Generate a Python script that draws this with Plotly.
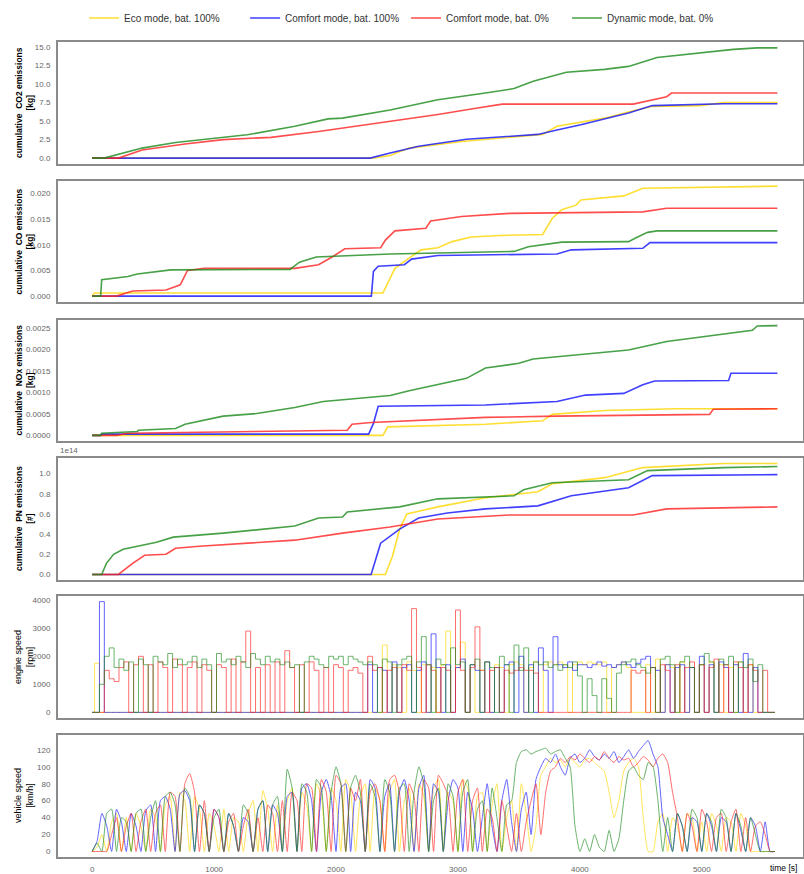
import plotly.graph_objects as go
from plotly.subplots import make_subplots

SERIES = ["Eco mode, bat. 100%", "Comfort mode, bat. 100%", "Comfort mode, bat. 0%", "Dynamic mode, bat. 0%"]
COLORS = ["#FFD700", "#1010FF", "#FF2020", "#1A8A1A"]

# ---------------- cumulative CO2 emissions [kg] ----------------
co2_eco_t = [0, 2300, 2444, 2600, 3030, 3460, 3695, 3812, 4203, 4438, 4594, 4985, 5180, 5620]
co2_eco_v = [0, 0, 0.35, 1.35, 2.25, 2.8, 3.2, 4.3, 5.4, 6.4, 7.0, 7.1, 7.5, 7.5]
co2_c100_t = [0, 2280, 2444, 2678, 3070, 3343, 3656, 3812, 4008, 4399, 4594, 5180, 5620]
co2_c100_v = [0, 0, 0.7, 1.6, 2.55, 2.9, 3.2, 3.8, 4.5, 6.1, 7.1, 7.35, 7.35]
co2_c0_t = [0, 215, 410, 762, 1075, 1466, 1857, 2248, 2444, 2835, 3148, 3363, 4438, 4712, 4751, 5620]
co2_c0_v = [0, 0, 1.1, 1.9, 2.5, 2.8, 3.6, 4.5, 5.0, 5.9, 6.75, 7.3, 7.3, 8.3, 8.8, 8.8]
co2_dyn_t = [0, 98, 410, 684, 1271, 1662, 1935, 2053, 2444, 2835, 3226, 3460, 3617, 3890, 4203, 4399, 4633, 4985, 5259, 5455, 5620]
co2_dyn_v = [0, 0, 1.35, 2.1, 3.15, 4.3, 5.3, 5.4, 6.5, 7.9, 8.8, 9.4, 10.4, 11.6, 12.0, 12.4, 13.6, 14.2, 14.7, 14.9, 14.9]

# ---------------- cumulative CO emissions [kg] ----------------
co_eco_t = [0, 20, 2385, 2444, 2483, 2600, 2698, 2835, 2952, 3108, 3343, 3695, 3773, 3851, 3969, 4008, 4360, 4516, 5180, 5620]
co_eco_v = [0, 0.0006, 0.0006, 0.0035, 0.0054, 0.0074, 0.009, 0.0094, 0.0106, 0.0115, 0.0118, 0.012, 0.0151, 0.0168, 0.0177, 0.0187, 0.0195, 0.021, 0.0213, 0.0214]
co_c100_t = [0, 2290, 2307, 2346, 2561, 2620, 2835, 3812, 3930, 4516, 4575, 5620]
co_c100_v = [0, 0, 0.0048, 0.0058, 0.0061, 0.0072, 0.0079, 0.0082, 0.009, 0.0093, 0.0104, 0.0104]
co_c0_t = [0, 200, 332, 606, 723, 782, 919, 1662, 1857, 1975, 2072, 2366, 2405, 2483, 2737, 2776, 3030, 3421, 4516, 4712, 5620]
co_c0_v = [0, 0, 0.001, 0.0012, 0.0022, 0.005, 0.0054, 0.0054, 0.0061, 0.0077, 0.0092, 0.0094, 0.0109, 0.0127, 0.0132, 0.0146, 0.0155, 0.0161, 0.0164, 0.0171, 0.0171]
co_dyn_t = [0, 70, 78, 293, 371, 645, 1623, 1700, 1838, 2444, 3460, 3578, 3851, 4399, 4457, 4555, 4633, 5620]
co_dyn_v = [0, 0, 0.0032, 0.0038, 0.0043, 0.0051, 0.0052, 0.0066, 0.0076, 0.0082, 0.0087, 0.0096, 0.0105, 0.0106, 0.0113, 0.0124, 0.0127, 0.0127]

# ---------------- cumulative NOx emissions [kg] ----------------
nox_eco_t = [0, 2385, 2424, 3226, 3695, 3773, 4203, 4790, 5620]
nox_eco_v = [0, 0, 0.0002, 0.00026, 0.00034, 0.00049, 0.00058, 0.00062, 0.00062]
nox_c100_t = [0, 70, 78, 2268, 2307, 2346, 3226, 3812, 4047, 4360, 4516, 4614, 5220, 5239, 5620]
nox_c100_v = [0, 0, 0.00003, 0.00003, 0.00028, 0.00068, 0.00071, 0.00079, 0.00094, 0.00098, 0.00118, 0.00127, 0.00128, 0.00145, 0.00145]
nox_c0_t = [0, 200, 293, 1271, 2092, 2131, 2288, 3226, 3812, 5063, 5094, 5620]
nox_c0_v = [0, 0, 0.00005, 0.00008, 0.00012, 0.00026, 0.0003, 0.00042, 0.00045, 0.00049, 0.00061, 0.00062]
nox_dyn_t = [0, 70, 78, 371, 380, 684, 762, 1075, 1349, 1662, 1896, 2444, 2600, 2913, 3070, 3226, 3499, 3617, 4008, 4399, 4712, 5102, 5415, 5455, 5620]
nox_dyn_v = [0, 0, 0.00005, 0.00009, 0.00012, 0.00016, 0.00026, 0.00045, 0.00051, 0.00065, 0.00079, 0.00093, 0.00104, 0.00123, 0.00133, 0.00157, 0.00168, 0.00178, 0.00188, 0.00199, 0.00219, 0.00234, 0.00245, 0.00255, 0.00256]

# ---------------- cumulative PN emissions [#] (units of 1e14) ----------------
pn_eco_t = [0, 2405, 2463, 2522, 2581, 2835, 3226, 3656, 3773, 4203, 4516, 5180, 5620]
pn_eco_v = [0, 0, 0.18, 0.45, 0.6, 0.67, 0.76, 0.82, 0.9, 0.96, 1.06, 1.1, 1.1]
pn_c100_t = [0, 2288, 2366, 2444, 2522, 2678, 2913, 3226, 3656, 3930, 4399, 4594, 5620]
pn_c100_v = [0, 0, 0.31, 0.38, 0.45, 0.56, 0.61, 0.65, 0.68, 0.78, 0.86, 0.98, 0.99]
pn_c0_t = [0, 215, 332, 430, 606, 684, 880, 1662, 2053, 2444, 2835, 3421, 4438, 4712, 5620]
pn_c0_v = [0, 0, 0.11, 0.19, 0.2, 0.26, 0.28, 0.34, 0.41, 0.47, 0.55, 0.59, 0.59, 0.65, 0.67]
pn_dyn_t = [0, 78, 117, 176, 254, 410, 528, 665, 1075, 1662, 1857, 2053, 2092, 2522, 2835, 3460, 3539, 3773, 4399, 4555, 5180, 5620]
pn_dyn_v = [0, 0, 0.11, 0.2, 0.25, 0.29, 0.32, 0.37, 0.41, 0.48, 0.56, 0.57, 0.62, 0.67, 0.75, 0.78, 0.84, 0.91, 0.94, 1.03, 1.06, 1.07]

# ---------------- engine speed [rpm], sampled every 40 s ----------------
SAMPLE_STEP = 40
eng_eco = [
    0, 1750, 0, 0, 0, 0, 0, 0, 0, 0,
    0, 0, 0, 0, 0, 0, 0, 0, 0, 0,
    0, 0, 0, 0, 0, 0, 0, 0, 0, 0,
    0, 0, 0, 0, 0, 0, 0, 0, 0, 0,
    0, 0, 0, 0, 0, 0, 0, 0, 0, 0,
    0, 0, 0, 0, 0, 0, 0, 0, 0, 0,
    2400, 0, 1700, 1600, 0, 1800, 1500, 0, 1700, 0,
    1600, 0, 1700, 2900, 0, 1600, 2500, 0, 1700, 0,
    1500, 1800, 0, 1700, 1600, 0, 1700, 1800, 1700, 0,
    1600, 1800, 0, 1700, 1800, 1700, 1800, 1700, 0, 1700,
    1800, 1700, 1800, 1750, 1700, 1800, 0, 1600, 1700, 1800,
    1600, 0, 0, 0, 1700, 0, 1900, 0, 1700, 1600,
    0, 1800, 0, 1600, 0, 1700, 0, 1800, 0, 1700,
    0, 1600, 0, 1800, 0, 1700, 0, 0, 0, 0,
    0]
eng_c100 = [
    0, 0, 3950, 0, 0, 0, 0, 0, 0, 0,
    0, 0, 0, 0, 0, 0, 0, 0, 0, 0,
    0, 0, 0, 0, 0, 0, 0, 0, 0, 0,
    0, 0, 0, 0, 0, 0, 0, 0, 0, 0,
    0, 0, 0, 0, 0, 0, 0, 0, 0, 0,
    0, 0, 0, 0, 0, 0, 0, 1700, 0, 1600,
    1500, 0, 1800, 0, 1600, 1700, 0, 1500, 1800, 0,
    2800, 1600, 0, 1700, 0, 1600, 1900, 0, 1700, 1500,
    0, 1800, 0, 1600, 0, 1700, 1800, 0, 2000, 0,
    1700, 0, 2300, 1500, 0, 2700, 1700, 1600, 1800, 1500,
    1700, 1700, 1600, 1700, 1800, 1650, 1700, 1600, 1700, 1800,
    1700, 1600, 1750, 1900, 2000, 1600, 1500, 0, 1700, 0,
    1600, 1700, 0, 1600, 0, 2000, 0, 1700, 0, 1800,
    1600, 0, 1700, 0, 2100, 0, 1600, 0, 0, 0,
    0]
eng_c0 = [
    0, 0, 0, 1500, 1200, 1100, 1600, 1800, 0, 1700,
    2000, 0, 1700, 0, 1800, 1600, 0, 1900, 1700, 0,
    1600, 1800, 0, 1700, 1500, 0, 1700, 1600, 0, 1900,
    0, 1800, 2900, 0, 1600, 0, 1700, 0, 1800, 0,
    2200, 1600, 0, 1700, 0, 1800, 1500, 0, 1600, 0,
    1700, 1600, 0, 1500, 1600, 1400, 0, 2000, 1500, 1600,
    0, 1500, 1600, 0, 1700, 1500, 3700, 1600, 0, 1700,
    1500, 0, 1600, 1500, 0, 3650, 1500, 0, 1600, 3050,
    1500, 0, 1500, 1600, 0, 1500, 1400, 1500, 1600, 1500,
    1500, 1400, 0, 0, 0, 0, 0, 0, 0, 0,
    0, 0, 0, 0, 0, 0, 0, 0, 0, 0,
    0, 1500, 1400, 1500, 0, 1600, 0, 1700, 1500, 0,
    1700, 0, 1600, 1800, 0, 1700, 0, 1600, 1900, 0,
    1700, 0, 1800, 1600, 0, 1700, 1500, 0, 1500, 0,
    0]
eng_dyn = [
    0, 0, 1000, 2000, 2300, 1600, 1900, 1500, 1800, 0,
    1900, 1700, 0, 2000, 1800, 1700, 2100, 1600, 1900, 1700,
    1800, 2000, 1600, 1900, 1700, 0, 2100, 1800, 1900, 1700,
    2000, 1800, 1600, 2100, 1900, 1700, 2000, 1800, 1900, 1700,
    1800, 1600, 1700, 0, 1800, 2000, 1900, 1700, 1600, 2000,
    1900, 2000, 1700, 2000, 1900, 1800, 1700, 1800, 1700, 0,
    1900, 1800, 0, 1700, 1900, 2000, 0, 1800, 2700, 1700,
    0, 1900, 1700, 0, 2300, 1700, 1800, 0, 1700, 1900,
    0, 1800, 1600, 0, 2000, 1700, 0, 2400, 1500, 2300,
    0, 1800, 1700, 1800, 1600, 1700, 1500, 1700, 1600, 1800,
    1300, 0, 1200, 600, 0, 1200, 500, 0, 1400, 1700,
    1800, 1900, 1700, 1600, 1400, 1600, 0, 1900, 2000, 1700,
    0, 1800, 2000, 1600, 0, 1700, 2100, 1800, 0, 1900,
    1700, 2000, 0, 1800, 1600, 1900, 1100, 1700, 0, 0,
    0]

# ---------------- vehicle speed [km/h], sampled every 40 s ----------------
veh_eco = [
    0, 5, 20, 0, 35, 45, 0, 40, 0, 45,
    30, 0, 50, 40, 0, 55, 65, 0, 70, 60,
    0, 65, 50, 0, 45, 30, 0, 50, 0, 40,
    35, 0, 45, 60, 0, 72, 50, 0, 55, 0,
    60, 75, 0, 70, 55, 0, 80, 65, 0, 75,
    60, 0, 85, 70, 0, 65, 80, 0, 75, 60,
    0, 70, 85, 0, 60, 75, 0, 80, 65, 0,
    75, 85, 0, 70, 60, 0, 85, 75, 0, 65,
    70, 0, 55, 80, 0, 40, 60, 0, 80, 45,
    0, 30, 90, 100, 110, 105, 108, 100, 110, 105,
    100, 108, 110, 105, 100, 95, 70, 40, 60, 95,
    105, 110, 100, 40, 0, 0, 35, 45, 0, 40,
    30, 0, 45, 40, 0, 35, 0, 45, 30, 0,
    40, 35, 0, 45, 30, 0, 0, 0, 0, 0,
    0]
veh_c100 = [
    0, 12, 45, 30, 0, 50, 35, 0, 45, 30,
    0, 48, 55, 0, 60, 65, 50, 0, 68, 72,
    60, 0, 55, 45, 0, 50, 40, 0, 45, 30,
    0, 40, 35, 0, 50, 60, 0, 55, 45, 0,
    65, 70, 0, 75, 80, 60, 0, 70, 85, 65,
    0, 75, 80, 0, 70, 60, 0, 85, 75, 0,
    65, 80, 0, 70, 85, 60, 0, 75, 90, 0,
    80, 70, 0, 60, 85, 75, 0, 70, 50, 0,
    40, 80, 30, 0, 60, 85, 35, 0, 50, 70,
    20, 85, 100, 110, 105, 115, 100, 90, 110, 115,
    105, 110, 120, 112, 108, 115, 110, 118, 105, 112,
    120, 110, 118, 125, 131, 115, 100, 40, 20, 0,
    45, 30, 0, 40, 35, 0, 45, 30, 0, 40,
    35, 0, 45, 25, 0, 40, 30, 0, 35, 0,
    0]
veh_c0 = [
    0, 0, 0, 0, 20, 40, 0, 30, 45, 0,
    35, 50, 0, 45, 55, 0, 70, 65, 0, 80,
    92, 70, 0, 60, 0, 50, 40, 0, 35, 45,
    0, 30, 50, 0, 40, 0, 55, 45, 0, 60,
    0, 70, 60, 0, 80, 75, 0, 85, 70, 0,
    90, 80, 0, 75, 60, 85, 0, 70, 80, 60,
    0, 85, 90, 70, 0, 80, 65, 0, 85, 75,
    0, 90, 80, 65, 0, 70, 85, 0, 60, 75,
    0, 50, 40, 0, 60, 30, 0, 45, 0, 35,
    60, 80, 20, 70, 95, 100, 110, 105, 112, 108,
    115, 110, 105, 112, 108, 118, 110, 105, 112, 108,
    110, 100, 105, 112, 108, 100, 110, 115, 105, 70,
    40, 0, 45, 30, 0, 50, 35, 0, 40, 45,
    0, 35, 50, 0, 40, 0, 30, 35, 20, 0,
    0]
veh_dyn = [
    0, 10, 0, 45, 50, 0, 40, 35, 0, 45,
    50, 0, 40, 60, 0, 65, 70, 55, 0, 75,
    65, 0, 55, 45, 0, 40, 50, 0, 45, 30,
    0, 55, 45, 0, 50, 60, 0, 55, 65, 0,
    97, 75, 0, 80, 70, 0, 85, 75, 0, 70,
    100, 80, 0, 75, 90, 70, 0, 80, 65, 0,
    85, 70, 0, 75, 80, 0, 70, 100, 80, 0,
    60, 75, 0, 80, 65, 0, 70, 85, 0, 50,
    60, 0, 75, 40, 0, 55, 60, 105, 118, 120,
    115, 118, 120, 122, 115, 118, 120, 110, 100, 30,
    0, 15, 0, 20, 5, 0, 25, 0, 15, 60,
    95, 100, 90, 85, 105, 100, 60, 0, 40, 0,
    45, 30, 0, 50, 40, 0, 45, 35, 0, 50,
    40, 0, 45, 30, 0, 40, 20, 0, 0, 0,
    0]

XTICKS = [0, 1000, 2000, 3000, 4000, 5000]

cum_panels = [
    [(co2_eco_t, co2_eco_v), (co2_c100_t, co2_c100_v), (co2_c0_t, co2_c0_v), (co2_dyn_t, co2_dyn_v)],
    [(co_eco_t, co_eco_v), (co_c100_t, co_c100_v), (co_c0_t, co_c0_v), (co_dyn_t, co_dyn_v)],
    [(nox_eco_t, nox_eco_v), (nox_c100_t, nox_c100_v), (nox_c0_t, nox_c0_v), (nox_dyn_t, nox_dyn_v)],
    [(pn_eco_t, pn_eco_v), (pn_c100_t, pn_c100_v), (pn_c0_t, pn_c0_v), (pn_dyn_t, pn_dyn_v)],
]
speed_panels = [
    ([eng_eco, eng_c100, eng_c0, eng_dyn], "hvh", 1.0),
    ([veh_eco, veh_c100, veh_c0, veh_dyn], "spline", 1.0),
]

fig = make_subplots(rows=6, cols=1)

for r, panel in enumerate(cum_panels, start=1):
    for k, (t, v) in enumerate(panel):
        fig.add_trace(go.Scatter(x=t, y=v, mode="lines", name=SERIES[k], legendgroup=SERIES[k],
                                 showlegend=(r == 1), opacity=0.8,
                                 line=dict(color=COLORS[k], width=1.6)), row=r, col=1)

for r, (panel, shape, lw) in enumerate(speed_panels, start=5):
    for k, vals in enumerate(panel):
        t = [i * SAMPLE_STEP for i in range(len(vals))]
        line = dict(color=COLORS[k], width=lw, shape=shape)
        if shape == "spline":
            line["smoothing"] = 0.5
        fig.add_trace(go.Scatter(x=t, y=vals, mode="lines", name=SERIES[k], legendgroup=SERIES[k],
                                 showlegend=False, opacity=0.65, line=line), row=r, col=1)

# layout geometry (pixel-derived)
W, H = 804, 874
ML, MR, MT, MB = 58, 1, 42, 17
ph = H - MT - MB
panels_px = [(42, 164), (181, 302), (320, 441), (458, 580), (596, 718), (735, 857)]
domains = [[(H - MB - b) / ph, (H - MB - t) / ph] for (t, b) in panels_px]

yranges = [[-0.8, 15.7], [-0.00115, 0.0224], [-0.00013, 0.00269], [-0.055, 1.155], [-200, 4150], [-6.5, 137.5]]
ydticks = [2.5, 0.005, 0.0005, 0.2, 1000, 20]
yfmts = [".1f", ".3f", ".4f", ".1f", "d", "d"]

tickfont = dict(family="Liberation Sans, Arial, sans-serif", size=8, color="#666666")
for i in range(6):
    yname = "yaxis" if i == 0 else f"yaxis{i+1}"
    xname = "xaxis" if i == 0 else f"xaxis{i+1}"
    fig.layout[yname].update(domain=domains[i], range=yranges[i], dtick=ydticks[i], tick0=0,
                             tickformat=yfmts[i], showgrid=False, zeroline=False,
                             showline=True, mirror=True, linecolor="#8a8a8a", linewidth=2,
                             ticks="outside", ticklen=4, tickcolor="rgba(0,0,0,0)",
                             tickfont=tickfont)
    fig.layout[xname].update(range=[-280, 5830], showgrid=False, zeroline=False,
                             showline=True, mirror=True, linecolor="#8a8a8a", linewidth=2,
                             tickvals=XTICKS, showticklabels=(i == 5),
                             ticks="outside", ticklen=3, tickcolor="rgba(0,0,0,0)",
                             tickfont=tickfont)
    if i < 5:
        fig.layout[xname].update(matches="x6")

ytitles = [
    "<b>cumulative  CO2 emissions<br>[kg]</b>",
    "<b>cumulative  CO emissions<br>[kg]</b>",
    "<b>cumulative  NOx emissions<br>[kg]</b>",
    "<b>cumulative  PN emissions<br>[#]</b>",
    "engine speed<br>[rpm]",
    "vehicle speed<br>[km/h]",
]
annotations = []
for i, txt in enumerate(ytitles):
    yref = "y domain" if i == 0 else f"y{i+1} domain"
    annotations.append(dict(text=txt, x=(24 - ML) / (W - ML - MR), xref="paper", y=0.5, yref=yref,
                            xanchor="center", yanchor="middle", textangle=-90, showarrow=False,
                            font=dict(family="Liberation Sans, Arial, sans-serif",
                                      size=8.5 if i < 4 else 9, color="#000000"), align="center"))
annotations.append(dict(text="1e14", x=0.0, xref="paper", y=1.0, yref="y4 domain",
                        xanchor="left", yanchor="bottom", showarrow=False, yshift=1,
                        font=dict(family="Liberation Sans, Arial, sans-serif", size=8, color="#666666")))
annotations.append(dict(text="time [s]", x=1.0, xref="paper", y=0, yref="paper",
                        xanchor="right", yanchor="top", showarrow=False, yshift=-4, xshift=-4,
                        font=dict(family="Liberation Sans, Arial, sans-serif",
                                  size=8.5, color="#000000")))

fig.update_layout(
    width=W, height=H,
    margin=dict(l=ML, r=MR, t=MT, b=MB, pad=0, autoexpand=False),
    paper_bgcolor="white", plot_bgcolor="white",
    annotations=annotations,
    legend=dict(orientation="h", x=0.035, xanchor="left", y=1 + 24 / ph, yanchor="middle",
                font=dict(family="Liberation Sans, Arial, sans-serif",
                          size=10, color="#333333"),
                itemwidth=30, entrywidth=116, entrywidthmode="pixels", bgcolor="rgba(0,0,0,0)"),
)

fig.write_html("out.html", config={"displayModeBar": False},
               post_script="document.body.style.margin='0';document.body.style.overflow='hidden';")
